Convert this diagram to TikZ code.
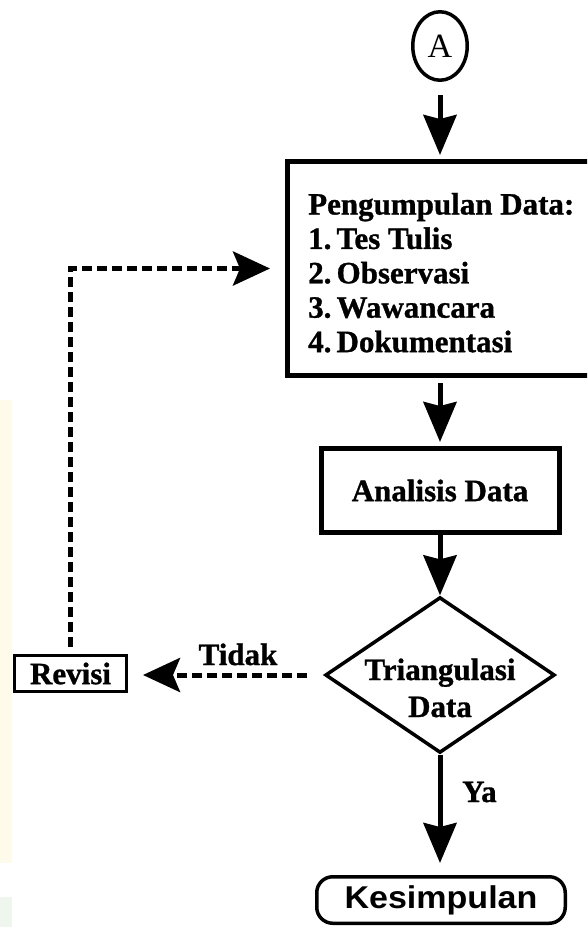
\documentclass[tikz,border=0pt]{standalone}
\usepackage{fontspec}
\setmainfont{Liberation Serif}[BoldFeatures={FakeBold=1}]
\newfontfamily\sansfam{Liberation Sans}
\usetikzlibrary{arrows.meta,shapes.geometric}
\definecolor{tintY}{HTML}{FFFBEA}
\definecolor{tintG}{HTML}{EEF6EE}
\begin{document}
\begin{tikzpicture}[x=1pt,y=-1pt,
  bigarrow/.style={line width=5pt,-{Stealth[length=40pt,width=33pt,inset=4pt]}},
  dasharrow/.style={line width=5pt,dash pattern=on 10pt off 5pt,-{Stealth[length=37pt,width=34pt,inset=7pt]}},
  txt/.style={font=\fontsize{31}{34.4}\selectfont\bfseries, inner sep=0pt},
  boxthick/.style={draw, line width=5pt, inner sep=0pt},
]
\useasboundingbox (0,0) rectangle (587,927);
\clip (0,0) rectangle (587,927);
\fill[tintY] (0,400) rectangle (12,863);
\fill[tintG] (0,897) rectangle (12,927);

\node[ellipse, draw, line width=3.5pt, minimum width=54.5pt, minimum height=68.5pt, inner sep=0pt, font=\fontsize{34}{34}\selectfont] (A) at (440,46) {A};

\node[boxthick, minimum width=312.5pt, minimum height=214pt] (box1) at (443.75,268.5) {};
\node[txt, anchor=base west] (box1txt) at (308,214.5) {\begin{tabular}[t]{@{}l@{}}Pengumpulan Data:\\1.\,Tes Tulis\\2.\,Observasi\\3.\,Wawancara\\4.\,Dokumentasi\end{tabular}};

\node[boxthick, txt, minimum width=238pt, minimum height=84pt] (ana) at (440,490.5) {Analisis Data};

\node[diamond, draw, line width=3.5pt, minimum width=229.6pt, minimum height=155.8pt, inner sep=0pt] (dia) at (440,675) {};
\node[txt, anchor=base, font=\fontsize{31}{37}\selectfont\bfseries] (diatxt) at (440,680) {\begin{tabular}[t]{@{}c@{}}Triangulasi\\Data\end{tabular}};

\node[draw, line width=3pt, txt, minimum width=112pt, minimum height=36pt] (rev) at (70.5,673.5) {Revisi};

\node[draw, line width=3.5pt, rounded corners=16pt, minimum width=248.5pt, minimum height=46.5pt, inner sep=0pt, font=\sansfam\bfseries\fontsize{31.5}{31.5}\selectfont] (kes) at (441,900) {\scalebox{1.08}[1]{Kesimpulan}};

\draw[bigarrow, shorten <=13pt, shorten >=4pt] (A.south) -- (A.south |- box1.north);
\draw[bigarrow, shorten <=5pt, shorten >=4pt] (ana.north |- box1.south) -- (ana.north);
\draw[bigarrow] (ana.south) -- (dia.north);
\draw[bigarrow, shorten >=12pt] (dia.south) -- (dia.south |- kes.north);
\node[txt, anchor=base west] (ya) at (462,802) {Ya};

\draw[dasharrow, shorten <=16pt, shorten >=15pt] (dia.west) -- (rev.east |- dia.west);
\node[txt, anchor=base] (tidak) at (238,665) {Tidak};

\draw[dasharrow, shorten <=7pt, shorten >=15pt] (rev.north) |- (box1.west);
\end{tikzpicture}
\end{document}
